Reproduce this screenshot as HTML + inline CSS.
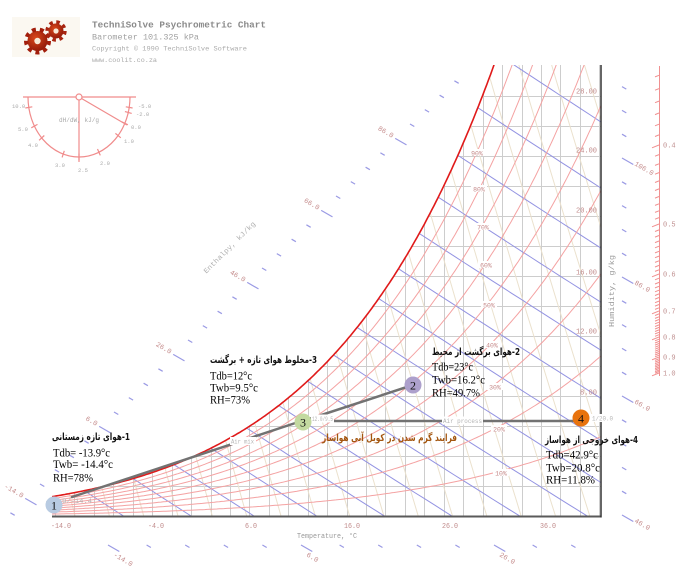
<!DOCTYPE html>
<html>
<head>
<meta charset="utf-8">
<style>
html,body{margin:0;padding:0;background:#fff;width:687px;height:579px;overflow:hidden;}
body{position:relative;}
svg{position:absolute;left:0;top:0;overflow:hidden;display:block;}
.m{font-family:"Liberation Mono","DejaVu Sans Mono",monospace;}
.s{font-family:"Liberation Serif","DejaVu Serif",serif;}
.fa{font-family:"DejaVu Sans",sans-serif;font-weight:bold;direction:rtl;unicode-bidi:embed;}
</style>
</head>
<body>
<svg width="687" height="579" viewBox="0 0 687 579" xmlns="http://www.w3.org/2000/svg">
<defs>
  <clipPath id="cr"><rect x="52" y="65" width="549" height="452"/></clipPath>
  <clipPath id="cc"><path id="clipP" d="M52,65H601V517H52Z"/></clipPath>
  <radialGradient id="gr" cx="0.4" cy="0.35" r="0.75">
    <stop offset="0" stop-color="#d9481c"/><stop offset="1" stop-color="#8a1406"/>
  </radialGradient>
</defs>

<!-- Logo -->
<rect x="12" y="17" width="68" height="40" fill="#fbf8f1"/>
<circle cx="37.5" cy="41" r="10" fill="url(#gr)"/>
<circle cx="37.5" cy="41" r="11.5" fill="none" stroke="#a21e0c" stroke-width="4" stroke-dasharray="4 4.03"/>
<circle cx="37.5" cy="41" r="3.2" fill="#f7ead8"/>
<circle cx="56" cy="31" r="7.5" fill="url(#gr)"/>
<circle cx="56" cy="31" r="9" fill="none" stroke="#a82410" stroke-width="3.4" stroke-dasharray="3.5 3.57"/>
<circle cx="56" cy="31" r="2.6" fill="#f7ead8"/>

<!-- Title -->
<text class="m" x="92" y="27.5" font-size="9.5" font-weight="bold" fill="#8a8a8a" textLength="174" lengthAdjust="spacingAndGlyphs">TechniSolve Psychrometric Chart</text>
<text class="m" x="92" y="39.5" font-size="8.5" fill="#a0a0a0" textLength="107" lengthAdjust="spacingAndGlyphs">Barometer 101.325 kPa</text>
<text class="m" x="92" y="50.5" font-size="6.8" fill="#ababab" textLength="155" lengthAdjust="spacingAndGlyphs">Copyright © 1990  TechniSolve Software</text>
<text class="m" x="92" y="62" font-size="6.8" fill="#ababab" textLength="65" lengthAdjust="spacingAndGlyphs">www.coolit.co.za</text>

<!-- Protractor -->
<g stroke="#f08c8c" fill="none" stroke-width="1.2">
  <path d="M23,97H136"/>
  <path d="M28,97A51,60 0 0 0 130,97"/>
  <path d="M79,97V162"/>
  <path d="M79,97L127,125"/>
  <circle cx="79" cy="97" r="3" fill="#fff"/>
  <path d="M32.3,106.8L25.3,108M37.5,124.4L31.3,127.8M44.3,135.5L39.1,140.3M64.3,150.8L62.1,157.4M79,153.5L79,160.5M97.5,149L100.3,155.4M115.4,133.4L120.8,137.8M121.7,121.8L127.9,124.8M124.9,111.6L131.7,113.4M125.8,106.8L132.6,108"/>
</g>
<g class="m" font-size="5.5" fill="#aaaaaa">
  <text x="12" y="108">10.0</text>
  <text x="18" y="131">5.0</text>
  <text x="28" y="147">4.0</text>
  <text x="55" y="167">3.0</text>
  <text x="78" y="172">2.5</text>
  <text x="100" y="165">2.0</text>
  <text x="124" y="143">1.0</text>
  <text x="131" y="129">0.0</text>
  <text x="136" y="116">-2.0</text>
  <text x="138" y="108">-5.0</text>
</g>
<text class="m" x="59" y="122" font-size="6.3" fill="#a8a8a8" textLength="40" lengthAdjust="spacingAndGlyphs">dH/dW, kJ/g</text>

<!-- Chart lines -->
<g clip-path="url(#cr)">
  <g id="chart" clip-path="url(#cc)"></g>
  <path id="satc" d="M52,500" fill="none" stroke="#e01a1a" stroke-width="1.6"/>
</g>

<!-- Axes -->
<path d="M52,516.5H601.5" stroke="#5a5a5a" stroke-width="2"/>
<path d="M601,65V517.5" stroke="#333" stroke-width="1.5"/>

<!-- outer scales -->
<g id="outer"></g>
<path d="M659.5,66V376" stroke="#f09090" stroke-width="1"/>

<!-- RH labels -->
<g class="m" font-size="6.5" fill="#c48888" text-anchor="middle">
  <rect x="469" y="149" width="16" height="7" fill="#fff"/><text x="477" y="155.5">90%</text>
  <rect x="471" y="185" width="16" height="7" fill="#fff"/><text x="479" y="191.5">80%</text>
  <rect x="475" y="223" width="16" height="7" fill="#fff"/><text x="483" y="229.5">70%</text>
  <rect x="478" y="261" width="16" height="7" fill="#fff"/><text x="486" y="267.5">60%</text>
  <rect x="481" y="301" width="16" height="7" fill="#fff"/><text x="489" y="307.5">50%</text>
  <rect x="484" y="341" width="16" height="7" fill="#fff"/><text x="492" y="347.5">40%</text>
  <rect x="487" y="383" width="16" height="7" fill="#fff"/><text x="495" y="389.5">30%</text>
  <rect x="491" y="425" width="16" height="7" fill="#fff"/><text x="499" y="431.5">20%</text>
  <rect x="493" y="469" width="16" height="7" fill="#fff"/><text x="501" y="475.5">10%</text>
</g>

<!-- Humidity labels -->
<g class="m" font-size="7" fill="#c08a8a" text-anchor="end">
  <text x="597" y="93.5" textLength="21" lengthAdjust="spacingAndGlyphs">28.00</text>
  <text x="597" y="152.5" textLength="21" lengthAdjust="spacingAndGlyphs">24.00</text>
  <text x="597" y="212.5" textLength="21" lengthAdjust="spacingAndGlyphs">20.00</text>
  <text x="597" y="274.5" textLength="21" lengthAdjust="spacingAndGlyphs">16.00</text>
  <text x="597" y="333.5" textLength="21" lengthAdjust="spacingAndGlyphs">12.00</text>
  <text x="597" y="394.5" textLength="17" lengthAdjust="spacingAndGlyphs">8.00</text>
</g>
<text class="m" transform="translate(614,291) rotate(-90)" text-anchor="middle" font-size="7.5" fill="#9a9a9a" textLength="72" lengthAdjust="spacingAndGlyphs">Humidity, g/kg</text>

<!-- X labels -->
<g class="m" font-size="7" fill="#c08a8a">
  <text x="51" y="528" textLength="20" lengthAdjust="spacingAndGlyphs">-14.0</text>
  <text x="148" y="528" textLength="16" lengthAdjust="spacingAndGlyphs">-4.0</text>
  <text x="245" y="528" textLength="12" lengthAdjust="spacingAndGlyphs">6.0</text>
  <text x="344" y="528" textLength="16" lengthAdjust="spacingAndGlyphs">16.0</text>
  <text x="442" y="528" textLength="16" lengthAdjust="spacingAndGlyphs">26.0</text>
  <text x="540" y="528" textLength="16" lengthAdjust="spacingAndGlyphs">36.0</text>
</g>
<text class="m" x="297" y="538" font-size="7" fill="#999" textLength="60" lengthAdjust="spacingAndGlyphs">Temperature, °C</text>

<!-- Enthalpy outer labels -->
<g class="m" font-size="7" fill="#c48a8a">
  <text transform="translate(392,138) rotate(30)" text-anchor="end">86.0</text>
  <text transform="translate(318,210) rotate(30)" text-anchor="end">66.0</text>
  <text transform="translate(244,282) rotate(30)" text-anchor="end">46.0</text>
  <text transform="translate(170,354) rotate(30)" text-anchor="end">26.0</text>
  <text transform="translate(96,426) rotate(30)" text-anchor="end">6.0</text>
  <text transform="translate(22,498) rotate(30)" text-anchor="end">-14.0</text>
  <text transform="translate(634,165) rotate(30)">106.0</text>
  <text transform="translate(634,284) rotate(30)">86.0</text>
  <text transform="translate(634,403) rotate(30)">66.0</text>
  <text transform="translate(634,522) rotate(30)">46.0</text>
  <text transform="translate(113,556) rotate(30)">-14.0</text>
  <text transform="translate(306,556) rotate(30)">6.0</text>
  <text transform="translate(499,556) rotate(30)">26.0</text>
</g>
<text class="m" transform="translate(231,249) rotate(-45)" text-anchor="middle" font-size="7" fill="#b0b0b0" textLength="70" lengthAdjust="spacingAndGlyphs">Enthalpy, kJ/kg</text>

<!-- SHR scale labels -->
<g class="m" font-size="7" fill="#c09090">
  <text x="663" y="147.5">0.4</text>
  <text x="663" y="226.5">0.5</text>
  <text x="663" y="276.5">0.6</text>
  <text x="663" y="313.5">0.7</text>
  <text x="663" y="339.5">0.8</text>
  <text x="663" y="359.5">0.9</text>
  <text x="663" y="375.5">1.0</text>
</g>

<!-- Process lines -->
<g stroke="#727272" stroke-width="2.5" fill="none" stroke-linecap="round">
  <path d="M72,497L303,420.5"/>
  <path d="M303,421L413,385"/>
  <path d="M303,421H581"/>
</g>
<g class="m" font-size="6" fill="#b4b4b4">
  <rect x="230" y="437" width="26" height="8" fill="#fff"/>
  <text x="231" y="443.5" textLength="23" lengthAdjust="spacingAndGlyphs">Air mix</text>
  <rect x="311" y="414.5" width="23" height="8" fill="#fff"/>
  <text x="312" y="421" textLength="21" lengthAdjust="spacingAndGlyphs">12.0/9.5</text>
  <rect x="442" y="416.5" width="41" height="8" fill="#fff"/>
  <text x="443" y="423" textLength="39" lengthAdjust="spacingAndGlyphs">Air process</text>
  <rect x="591" y="414" width="23" height="8" fill="#fff"/>
  <text x="592" y="420.5" textLength="21" lengthAdjust="spacingAndGlyphs">1/20.0</text>
  <text x="45" y="503" textLength="47" lengthAdjust="spacingAndGlyphs">-13.9/-14.4</text>
</g>

<!-- Points -->
<circle cx="54" cy="505" r="8.5" fill="#b8cbe2"/>
<circle cx="413" cy="385" r="8.5" fill="#ada0cc"/>
<circle cx="303" cy="422" r="8.5" fill="#c3d9a0"/>
<circle cx="581" cy="418" r="8.5" fill="#e8730e"/>
<g class="s" font-size="12" fill="#111" text-anchor="middle">
  <text x="54" y="509.5">1</text>
  <text x="413" y="389.5">2</text>
  <text x="303" y="426.5">3</text>
  <text x="581" y="422.5">4</text>
</g>

<!-- Annotation blocks -->
<g class="fa" font-size="10" fill="#111" text-anchor="middle">
  <text x="91" y="440" textLength="78" lengthAdjust="spacingAndGlyphs">1-هوای تازه زمستانی</text>
  <text x="263.5" y="363" textLength="107" lengthAdjust="spacingAndGlyphs">3-مخلوط هوای تازه + برگشت</text>
  <text x="476" y="355" textLength="88" lengthAdjust="spacingAndGlyphs">2-هوای برگشت از محیط</text>
  <text x="591.5" y="443" textLength="93" lengthAdjust="spacingAndGlyphs">4-هوای خروجی از هواساز</text>
</g>
<text class="fa" x="389.5" y="441" font-size="10" fill="#a3550e" text-anchor="middle" textLength="135" lengthAdjust="spacingAndGlyphs">فرایند گرم شدن در کویل آبی هواساز</text>

<g class="s" font-size="12" fill="#000">
  <text x="53" y="456.5" textLength="57" lengthAdjust="spacingAndGlyphs">Tdb= -13.9°c</text>
  <text x="53" y="468" textLength="60" lengthAdjust="spacingAndGlyphs">Twb= -14.4°c</text>
  <text x="53" y="481.5" textLength="40" lengthAdjust="spacingAndGlyphs">RH=78%</text>

  <text x="210" y="379.5" textLength="42" lengthAdjust="spacingAndGlyphs">Tdb=12°c</text>
  <text x="210" y="391.5" textLength="48" lengthAdjust="spacingAndGlyphs">Twb=9.5°c</text>
  <text x="210" y="403.5" textLength="40" lengthAdjust="spacingAndGlyphs">RH=73%</text>

  <text x="432" y="370.5" textLength="41" lengthAdjust="spacingAndGlyphs">Tdb=23°c</text>
  <text x="432" y="383.5" textLength="53" lengthAdjust="spacingAndGlyphs">Twb=16.2°c</text>
  <text x="432" y="396.5" textLength="48" lengthAdjust="spacingAndGlyphs">RH=49.7%</text>

  <text x="546" y="458.5" textLength="52" lengthAdjust="spacingAndGlyphs">Tdb=42.9°c</text>
  <text x="546" y="471.5" textLength="54" lengthAdjust="spacingAndGlyphs">Twb=20.8°c</text>
  <text x="546" y="483.5" textLength="49" lengthAdjust="spacingAndGlyphs">RH=11.8%</text>
</g>
</svg>
<script>
(function(){
var NS="http://www.w3.org/2000/svg",P=101.325;
function ps(T){return 0.61094*Math.exp(17.625*T/(T+243.04));}
function Wr(T,f){var p=f*ps(T);return 622*p/(P-p);}
function X(T){return 55+(T+14)*9.72;}
function Y(W){return 516-15.5*W;}
function f1(v){return v.toFixed(1);}
function lb(x0,y0,x1,y1){
  var t0=0,t1=1,dx=x1-x0,dy=y1-y0,p=[-dx,dx,-dy,dy],q=[x0-1,685-x0,y0-1,577-y0];
  for(var i=0;i<4;i++){
    if(p[i]===0){if(q[i]<0)return null;}
    else{var r=q[i]/p[i];
      if(p[i]<0){if(r>t1)return null;if(r>t0)t0=r;}
      else{if(r<t0)return null;if(r<t1)t1=r;}}
  }
  return [x0+t0*dx,y0+t0*dy,x0+t1*dx,y0+t1*dy,t0,t1];
}
function pth(pts){
  var s='',open=false;
  for(var i=0;i<pts.length-1;i++){
    var a=pts[i],b=pts[i+1],c=lb(a[0],a[1],b[0],b[1]);
    if(!c){open=false;continue;}
    if(!open||c[4]>0)s+='M'+f1(c[0])+','+f1(c[1]);
    s+='L'+f1(c[2])+','+f1(c[3]);
    open=(c[5]===1);
  }
  return s;
}
function add(par,tag,a){var e=document.createElementNS(NS,tag);for(var k in a)e.setAttribute(k,a[k]);par.appendChild(e);return e;}

var sat=[],T,i,k,d;
for(T=-14.6;T<=31.6;T+=0.2)sat.push([X(T),Y(Wr(T,1))]);
var last=sat[sat.length-1];
var cd='M'+sat.map(function(p){return f1(p[0])+','+f1(p[1]);}).join('L')+'L686,'+f1(last[1])+'L686,578L40,578Z';
document.getElementById('clipP').setAttribute('d',cd);

var g=document.getElementById('chart');
d='';
for(T=-14;T<=42;T+=2){var x=Math.round(X(T))+0.5;d+='M'+x+',530V50';}
for(k=1;k<=14;k++){d+='M40,'+(516-30*k+0.5)+'H620';}
add(g,'path',{d:d,stroke:'#cdcdcd','stroke-width':'1',fill:'none'});

d='';
for(i=0;i<=20;i++){var v=0.73+0.01*i,pts=[];for(var W=0;W<=34;W+=1){var Tv=v*P/(0.287042*(1+1.6078*W/1000))-273.15;pts.push([X(Tv),Y(W)]);}d+=pth(pts);}
add(g,'path',{d:d,stroke:'#ebe1cd','stroke-width':'1',fill:'none'});

d='';
var hs=[-7,0,6.5,13,20,27,34,41,48,55,62,70,78,87,97,108];
hs.forEach(function(h){var pts=[];for(var t=-20;t<=46;t+=1){pts.push([X(t),Y((h-1.006*t)/(2.501+0.00186*t))]);}d+=pth(pts);});
add(g,'path',{d:d,stroke:'#9393e2','stroke-width':'1',fill:'none'});

d='';
for(i=1;i<=9;i++){var f=i/10,pr=[];for(T=-14.6;T<=44;T+=0.25)pr.push([X(T),Y(Wr(T,f))]);d+=pth(pr);}
add(g,'path',{d:d,stroke:'#f4a2a2','stroke-width':'1',fill:'none'});

document.getElementById('satc').setAttribute('d',pth(sat));

var o=document.getElementById('outer');
function ds(x,y,L){return 'M'+f1(x)+','+f1(y)+'l'+f1(L*0.87)+','+f1(L*0.5);}
d='';
for(k=-3;k<=27;k++){d+=ds(410-14.8*k,124+14.4*k,((k-1)%5===0)?13:5);}
for(k=-3;k<=15;k++){d+=ds(622,158+23.8*k,(k%5===0)?13:5);}
for(k=0;k<=12;k++){d+=ds(108+38.6*k,545,(k%5===0)?13:5);}
add(o,'path',{d:d,stroke:'#9a9ae4','stroke-width':'1.2',fill:'none'});

var an=[[0.334,67],[0.4,145],[0.5,224],[0.6,274],[0.7,311],[0.8,337],[0.9,357],[1.0,373]];
function sy(x){for(var j=0;j<an.length-1;j++){var a=an[j],b=an[j+1];if(x<=b[0]+1e-9){var t=(1/x-1/a[0])/(1/b[0]-1/a[0]);return a[1]+t*(b[1]-a[1]);}}return 373;}
d='';
for(i=34;i<=100;i++){var yy=sy(i/100),L=(i%10===0)?7:4;d+='M659,'+f1(yy)+'l-'+L+','+f1(L*0.4);}
add(o,'path',{d:d,stroke:'#f09090','stroke-width':'1',fill:'none'});
})();
</script>
</body>
</html>
